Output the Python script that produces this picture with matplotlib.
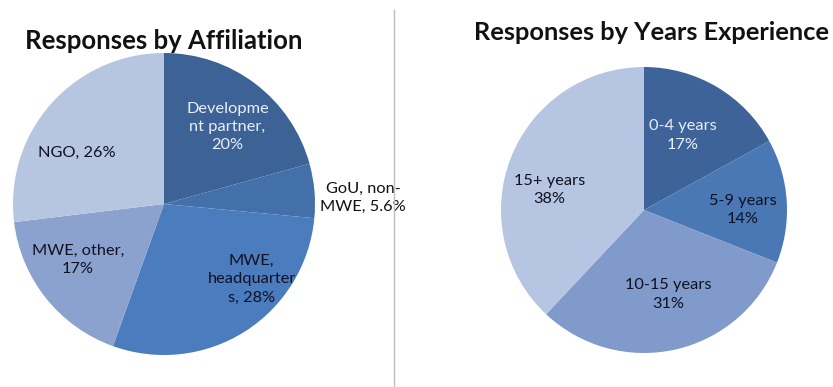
import matplotlib.pyplot as plt
from matplotlib.lines import Line2D

# data
aff_labels = ["Developme\nnt partner,\n20%", "GoU, non-\nMWE, 5.6%", "MWE,\nheadquarter\ns, 28%",
              "MWE, other,\n17%", "NGO, 26%"]
aff_values = [20, 5.6, 28, 17, 26]
aff_colors = ["#3d6296", "#4470aa", "#4a7cbe", "#8aa2cd", "#b7c6e0"]
aff_text_colors = ["#e8eef8", "#111111", "#111122", "#111122", "#111122"]
aff_label_pos = [(0.42, 0.51), (1.32, 0.04), (0.58, -0.50), (-0.57, -0.37), (-0.58, 0.34)]

exp_labels = ["0-4 years\n17%", "5-9 years\n14%", "10-15 years\n31%", "15+ years\n38%"]
exp_values = [17, 14, 31, 38]
exp_colors = ["#3e6399", "#4a78b5", "#7f9acb", "#b6c5e1"]
exp_text_colors = ["#e8eef8", "#111122", "#111122", "#111122"]
exp_label_pos = [(0.27, 0.52), (0.69, 0.0), (0.17, -0.59), (-0.66, 0.14)]

plt.rcParams['font.family'] = ['Lato', 'DejaVu Sans']

W, H = 833, 387
fig = plt.figure(figsize=(W / 100, H / 100), dpi=100)


def pie_axes(cx, cy, r):
    # cx, cy in pixels from top-left
    return fig.add_axes([(cx - r) / W, (H - cy - r) / H, 2 * r / W, 2 * r / H])


def draw_pie(ax, values, colors, labels, text_colors, pos):
    ax.pie(values, colors=colors, startangle=90, counterclock=False,
           wedgeprops=dict(linewidth=0))
    for lab, tc, (x, y) in zip(labels, text_colors, pos):
        ax.text(x, y, lab, ha='center', va='center', fontsize=11.8, color=tc,
                linespacing=1.4)
    ax.set_xlim(-1, 1)
    ax.set_ylim(-1, 1)
    ax.set_aspect('equal')
    ax.axis('off')


ax1 = pie_axes(164, 204, 151)
draw_pie(ax1, aff_values, aff_colors, aff_labels, aff_text_colors, aff_label_pos)

ax2 = pie_axes(644, 210, 143)
draw_pie(ax2, exp_values, exp_colors, exp_labels, exp_text_colors, exp_label_pos)

# titles
fig.text(164 / W, 1 - 41 / H, "Responses by Affiliation", ha='center', va='center',
         fontsize=18.5, fontweight='bold', color='#111111')
fig.text(651 / W, 1 - 33 / H, "Responses by Years Experience", ha='center', va='center',
         fontsize=18.3, fontweight='bold', color='#111111')

# separator
fig.add_artist(Line2D([394 / W, 394 / W], [0, 1 - 10 / H], color='#bfbfbf', linewidth=1,
                      transform=fig.transFigure))

fig.savefig('out.png', dpi=100)
